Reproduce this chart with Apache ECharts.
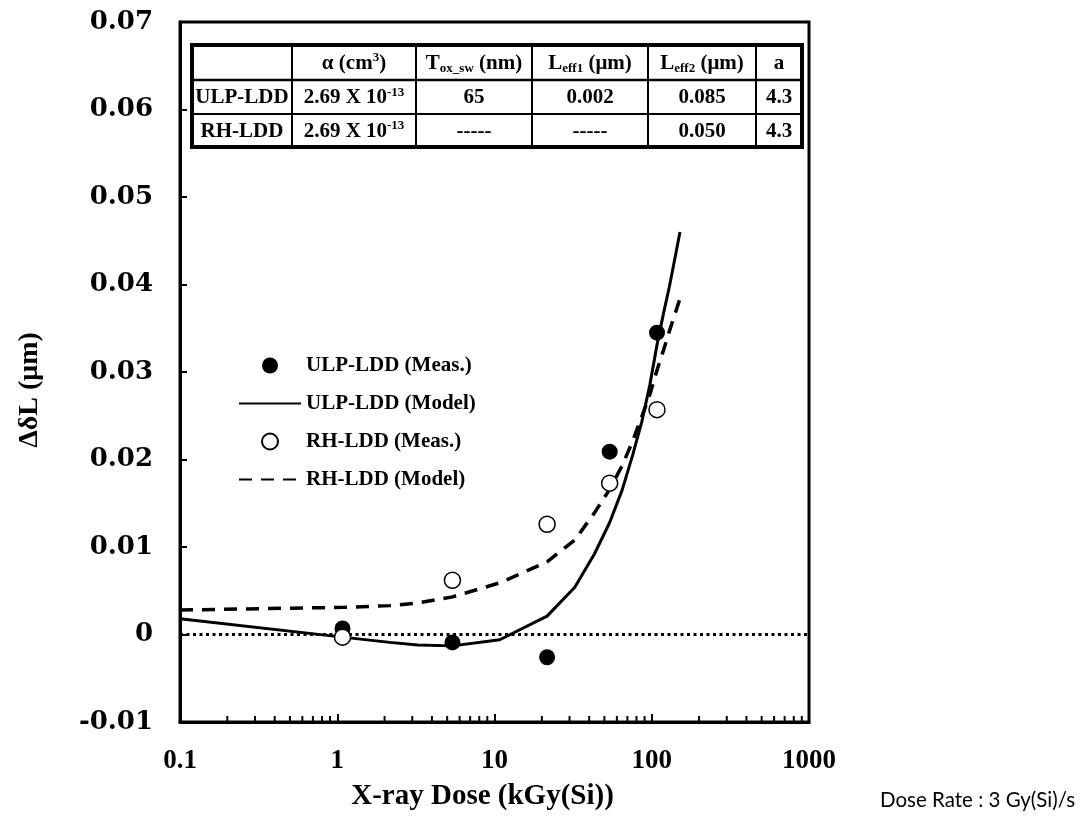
<!DOCTYPE html>
<html>
<head>
<meta charset="utf-8">
<title>ΔδL vs X-ray Dose</title>
<script src="https://cdn.jsdelivr.net/npm/echarts@6/dist/echarts.min.js"></script>
<style>
  html, body { margin: 0; padding: 0; background: #fff; }
  #chart { width: 1083px; height: 821px; }
</style>
</head>
<body>
<div id="chart"></div>
<script>
// ---- data ----
const seriesNames = ['ULP-LDD (Meas.)', 'ULP-LDD (Model)', 'RH-LDD (Meas.)', 'RH-LDD (Model)'];

// measured doses (kGy(Si)) at 3 Gy(Si)/s
const measDose = [1.08, 5.4, 21.6, 54, 108];
const ulpMeas = [0.0007, -0.0009, -0.0026, 0.0209, 0.0345];
const rhMeas = [-0.0003, 0.0062, 0.0126, 0.0173, 0.0257];

// model curves
const modelDose = [0.1, 1.08, 2.16, 3.24, 5.4, 10.8, 21.6, 32.4, 43.2, 54, 64.8, 75.6, 86.4, 97.2, 108, 118.8, 129.6, 140.4, 151.2];
const ulpModel = [0.0018, -0.0003, -0.0009, -0.0012, -0.0013, -0.0006, 0.0021, 0.0054, 0.0092, 0.0128, 0.0165, 0.0205, 0.0243, 0.0285, 0.0331, 0.0367, 0.0398, 0.0430, 0.0460];
const rhModel = [0.0028, 0.0031, 0.0033, 0.0036, 0.0043, 0.0059, 0.0083, 0.0108, 0.0139, 0.0166, 0.0193, 0.0221, 0.0249, 0.0274, 0.0302, 0.0325, 0.0347, 0.0366, 0.0384];

// reference level ΔδL = 0
const zeroLevel = [[0.1, 0], [1000, 0]];

// axes
const xTickLabels = ['0.1', '1', '10', '100', '1000'];
const xMinorTicks = [0.2, 0.3, 0.4, 0.5, 0.6, 0.7, 0.8, 0.9, 2, 3, 4, 5, 6, 7, 8, 9, 20, 30, 40, 50, 60, 70, 80, 90, 200, 300, 400, 500, 600, 700, 800, 900];
const yTickLabels = ['-0.01', '0', '0.01', '0.02', '0.03', '0.04', '0.05', '0.06', '0.07'];

// parameter table
const tableHeader = ['', 'α (cm{sup|3})', 'T{sub|ox_sw} (nm)', 'L{sub|eff1} (μm)', 'L{sub|eff2} (μm)', 'a'];
const tableULP = ['ULP-LDD', '2.69 X 10{sup|-13}', '65', '0.002', '0.085', '4.3'];
const tableRH = ['RH-LDD', '2.69 X 10{sup|-13}', '-----', '-----', '0.050', '4.3'];

const noteText = 'Dose Rate : 3 Gy(Si)/s';

// ---- layout ----
const SERIF = '"Liberation Serif", "Times New Roman", serif';
const Y_MIN = -0.01, Y_MAX = 0.07;
const zip = (xs, ys) => xs.map((x, i) => [x, ys[i]]);

const colX = [192, 292, 416, 532, 648, 756, 802];
const rowY = [45, 80, 114, 147];

function tableGraphics() {
  const els = [];
  els.push({
    type: 'rect', z: 10,
    shape: { x: colX[0], y: rowY[0], width: colX[6] - colX[0], height: rowY[3] - rowY[0] },
    style: { fill: '#fff', stroke: '#000', lineWidth: 4 }
  });
  for (let c = 1; c < colX.length - 1; c++) {
    els.push({ type: 'line', z: 11, shape: { x1: colX[c], y1: rowY[0], x2: colX[c], y2: rowY[3] },
      style: { stroke: '#000', lineWidth: 2 } });
  }
  for (let r = 1; r < rowY.length - 1; r++) {
    els.push({ type: 'line', z: 11, shape: { x1: colX[0], y1: rowY[r], x2: colX[6], y2: rowY[r] },
      style: { stroke: '#000', lineWidth: r === 1 ? 2.5 : 2 } });
  }
  const rows = [tableHeader, tableULP, tableRH];
  const rich = {
    sup: { fontSize: 13, fontFamily: SERIF, fontWeight: 'bold', fill: '#000', verticalAlign: 'top', lineHeight: 13 },
    sub: { fontSize: 13, fontFamily: SERIF, fontWeight: 'bold', fill: '#000', verticalAlign: 'bottom', lineHeight: 13 }
  };
  rows.forEach((row, r) => {
    row.forEach((txt, c) => {
      if (!txt) return;
      els.push({
        type: 'text', z: 12,
        style: {
          text: txt,
          x: (colX[c] + colX[c + 1]) / 2,
          y: (rowY[r] + rowY[r + 1]) / 2 + 1,
          align: 'center', verticalAlign: 'middle',
          fontSize: 21, fontFamily: SERIF, fontWeight: 'bold', lineHeight: 24,
          fill: '#000', rich: rich
        }
      });
    });
  });
  return els;
}

const chart = echarts.init(document.getElementById('chart'), null, { renderer: 'canvas' });

// line legend entries show only the stroke
const hiddenSymbol = { opacity: 0, color: 'rgba(0,0,0,0)', borderWidth: 0 };

chart.setOption({
  animation: false,
  backgroundColor: '#fff',
  grid: {
    left: 180, right: 274, top: 22, bottom: 99,
    show: true, borderColor: '#000', borderWidth: 3,
    containLabel: false, outerBoundsMode: 'none'
  },
  legend: {
    orient: 'vertical', left: 238, top: 355, padding: 0,
    itemWidth: 62, itemHeight: 16, itemGap: 17,
    selectedMode: false,
    textStyle: { fontFamily: SERIF, fontWeight: 'bold', fontSize: 21, color: '#000' },
    data: [
      { name: seriesNames[0] },
      { name: seriesNames[1], itemStyle: hiddenSymbol },
      { name: seriesNames[2] },
      { name: seriesNames[3], itemStyle: hiddenSymbol }
    ]
  },
  xAxis: {
    type: 'log', logBase: 10, min: 0.1, max: 1000,
    name: 'X-ray Dose (kGy(Si))', nameLocation: 'middle', nameGap: 60, nameMoveOverlap: false,
    nameTextStyle: { fontFamily: SERIF, fontWeight: 'bold', fontSize: 29, color: '#000', padding: [0, 24, 0, 0] },
    axisLine: { onZero: false, lineStyle: { color: '#000', width: 3 } },
    axisTick: { inside: true, length: 8, lineStyle: { color: '#000', width: 2 } },
    axisLabel: {
      margin: 26, color: '#000', fontFamily: SERIF, fontWeight: 'bold', fontSize: 27,
      formatter: (v, i) => xTickLabels[i]
    },
    splitLine: { show: false }
  },
  yAxis: {
    type: 'value', min: Y_MIN, max: Y_MAX, interval: 0.01,
    name: 'ΔδL (μm)', nameLocation: 'middle', nameGap: 136, nameRotate: 90, nameMoveOverlap: false,
    nameTextStyle: { fontFamily: SERIF, fontWeight: 'bold', fontSize: 28, color: '#000', padding: [0, 36, 0, 0] },
    axisLine: { onZero: false, lineStyle: { color: '#000', width: 3 } },
    axisTick: { inside: true, length: 7, lineStyle: { color: '#000', width: 2 } },
    axisLabel: {
      margin: 27, color: '#000', fontFamily: '"DejaVu Serif", serif', fontWeight: 'bold', fontSize: 26,
      formatter: (v, i) => yTickLabels[i]
    },
    splitLine: { show: false }
  },
  graphic: tableGraphics().concat([{
    type: 'text',
    style: {
      text: noteText, x: 880, y: 800, align: 'left', verticalAlign: 'middle',
      fontFamily: 'Lato, "Open Sans", sans-serif', fontSize: 20.5, fill: '#000'
    }
  }]),
  series: [
    {
      // dotted zero level
      name: 'zero', type: 'line', data: zeroLevel,
      symbol: 'none', showSymbol: false, silent: true,
      lineStyle: { color: '#000', width: 3, type: [3, 3.5] },
      z: 2
    },
    {
      name: seriesNames[1], type: 'line', data: zip(modelDose, ulpModel),
      symbol: 'none', showSymbol: false, smooth: false,
      lineStyle: { color: '#000', width: 3 }, itemStyle: { color: '#000' },
      z: 3
    },
    {
      name: seriesNames[3], type: 'line', data: zip(modelDose, rhModel),
      symbol: 'none', showSymbol: false, smooth: false,
      lineStyle: { color: '#000', width: 3.5, type: [13, 9] }, itemStyle: { color: '#000' },
      z: 3
    },
    {
      name: seriesNames[0], type: 'scatter', data: zip(measDose, ulpMeas),
      symbol: 'circle', symbolSize: 16,
      itemStyle: { color: '#000', borderColor: '#000', borderWidth: 0, opacity: 1 },
      z: 4
    },
    {
      name: seriesNames[2], type: 'scatter', data: zip(measDose, rhMeas),
      symbol: 'circle', symbolSize: 16,
      itemStyle: { color: '#fff', borderColor: '#000', borderWidth: 1.5, opacity: 1 },
      z: 5
    },
    {
      // minor ticks of the logarithmic dose axis (2..9 in each decade)
      type: 'custom', silent: true, z: 6,
      data: xMinorTicks.map(v => [v, Y_MIN]),
      encode: { x: 0, y: 1 },
      renderItem: (params, api) => {
        const p = api.coord([api.value(0), api.value(1)]);
        return {
          type: 'line',
          shape: { x1: p[0], y1: p[1] - 1, x2: p[0], y2: p[1] - 6 },
          style: { stroke: '#000', lineWidth: 2 }
        };
      }
    }
  ]
});
</script>
</body>
</html>
